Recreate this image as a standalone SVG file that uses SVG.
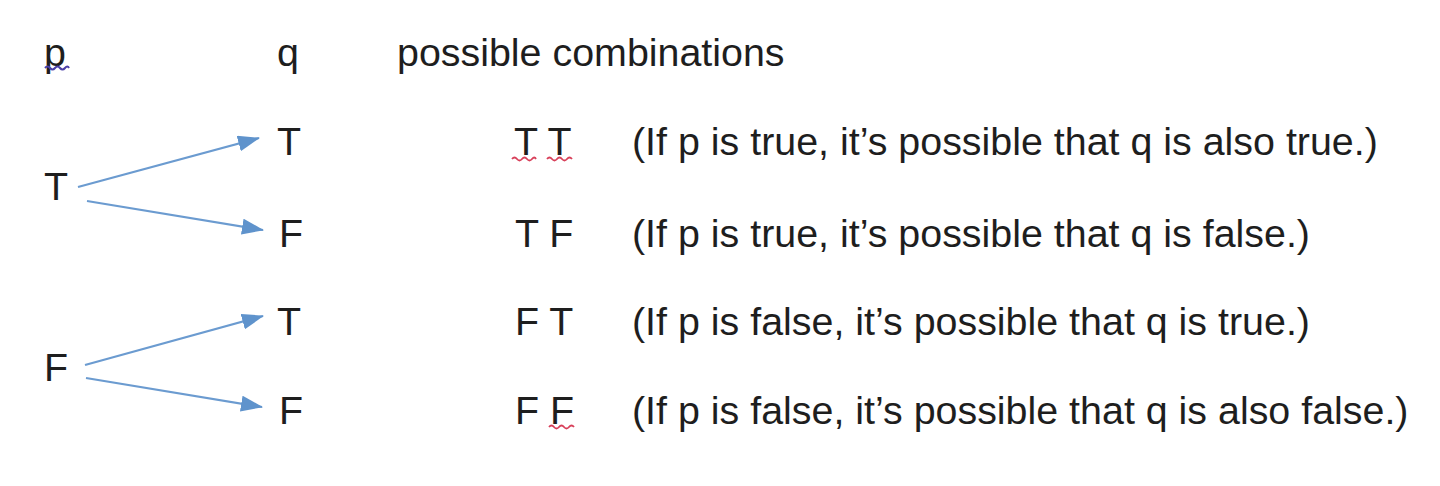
<svg xmlns="http://www.w3.org/2000/svg" width="1440" height="486" viewBox="0 0 1440 486">
<style>
text{font-family:"Liberation Sans",Arial,sans-serif;font-size:39.4px;fill:#1e1e1e}
.arrow{stroke:#6b9bd0;stroke-width:2.2;fill:none;marker-end:url(#ah)}
.sq-red{stroke:#d8405a;stroke-width:1.8;fill:none}
.sq-blue{stroke:#4a3fa8;stroke-width:2;fill:none}
</style>
<defs>
<marker id="ah" markerUnits="userSpaceOnUse" markerWidth="22" markerHeight="16" refX="21" refY="8" orient="auto">
<path d="M0,0 L22,8 L0,16 Z" fill="#5f93cc"/>
</marker>
</defs>
<rect width="1440" height="486" fill="#ffffff"/>
<g id="header">
<text x="44" y="66">p</text>
<text x="277" y="66">q</text>
<text x="397" y="66">possible combinations</text>
<path class="sq-blue" d="M45,68 q2.5,-3 5,0 t5,0 t5,0 t5,0 t4,0"/>
</g>
<g id="p-T"><text x="44" y="200">T</text></g>
<g id="p-F"><text x="44" y="381">F</text></g>
<g id="q-T1"><text x="277" y="155">T</text></g>
<g id="q-F1"><text x="279" y="247">F</text></g>
<g id="q-T2"><text x="277" y="335">T</text></g>
<g id="q-F2"><text x="279" y="424">F</text></g>
<g id="row1">
<text x="514" y="155">T T</text>
<text x="632" y="155">(If p is true, it’s possible that q is also true.)</text>
<path class="sq-red" d="M512,159 q2.5,-3 5,0 t5,0 t5,0 t5,0 t4,0"/>
<path class="sq-red" d="M547,159 q2.5,-3 5,0 t5,0 t5,0 t5,0 t5,0"/>
</g>
<g id="row2">
<text x="515" y="247">T F</text>
<text x="632" y="247">(If p is true, it’s possible that q is false.)</text>
</g>
<g id="row3">
<text x="515" y="335">F T</text>
<text x="632" y="335">(If p is false, it’s possible that q is true.)</text>
</g>
<g id="row4">
<text x="515" y="424">F F</text>
<text x="632" y="424">(If p is false, it’s possible that q is also false.)</text>
<path class="sq-red" d="M549,427 q2.5,-3 5,0 t5,0 t5,0 t5,0 t5,0"/>
</g>
<g id="connectors">
<line class="arrow" x1="78" y1="187" x2="259" y2="138"/>
<line class="arrow" x1="87" y1="201" x2="263" y2="230"/>
<line class="arrow" x1="85" y1="365" x2="263" y2="316"/>
<line class="arrow" x1="86" y1="378" x2="262" y2="407"/>
</g>
</svg>
